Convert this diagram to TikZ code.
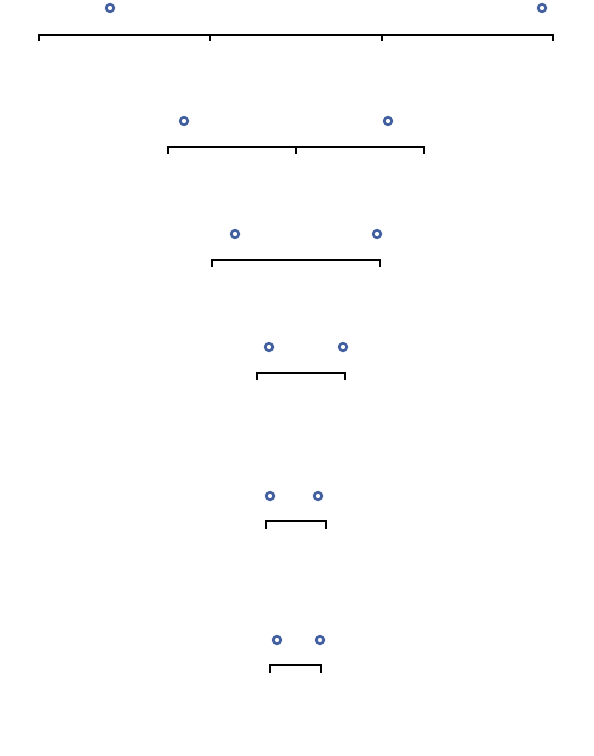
\documentclass[tikz,border=0pt]{standalone}
\usepackage{tikz}

\definecolor{ringblue}{RGB}{66,96,160}

\tikzset{every picture/.style={line width=0.75pt}}
\tikzset{
  ring/.style={circle, draw=ringblue, line width=2.1pt, inner sep=0pt, minimum size=5.6pt},
  brack/.style={draw=black, line width=1.5pt, line cap=butt}
}

\begin{document}
\begin{tikzpicture}[x=0.75pt,y=0.75pt,yscale=-1,xscale=1]
\useasboundingbox (0,0) rectangle (593,756);

%Row 1
\node [ring] (a1) at (110,8) {};
\node [ring] (a2) at (542,8) {};
\draw [brack] (39,41) -- (39,35) -- (553,35) -- (553,41) ;
\draw [brack] (210,35) -- (210,41) ;
\draw [brack] (382,35) -- (382,41) ;

%Row 2
\node [ring] (b1) at (184,121) {};
\node [ring] (b2) at (388,121) {};
\draw [brack, line width=1.2pt] (168,154) -- (168,147) -- (424,147) -- (424,154) ;
\draw [brack, line width=1.2pt] (296,147) -- (296,154) ;

%Row 3
\node [ring] (c1) at (235,234) {};
\node [ring] (c2) at (377,234) {};
\draw [brack, line width=1.2pt] (212,267) -- (212,260) -- (380,260) -- (380,267) ;

%Row 4
\node [ring] (d1) at (269,347) {};
\node [ring] (d2) at (343,347) {};
\draw [brack, line width=1.2pt] (257,380) -- (257,373) -- (345,373) -- (345,380) ;

%Row 5
\node [ring] (e1) at (270,496) {};
\node [ring] (e2) at (318,496) {};
\draw [brack] (266,529) -- (266,521) -- (326,521) -- (326,529) ;

%Row 6
\node [ring] (f1) at (277,640) {};
\node [ring] (f2) at (320,640) {};
\draw [brack] (270,673) -- (270,665) -- (321,665) -- (321,673) ;

\end{tikzpicture}
\end{document}
